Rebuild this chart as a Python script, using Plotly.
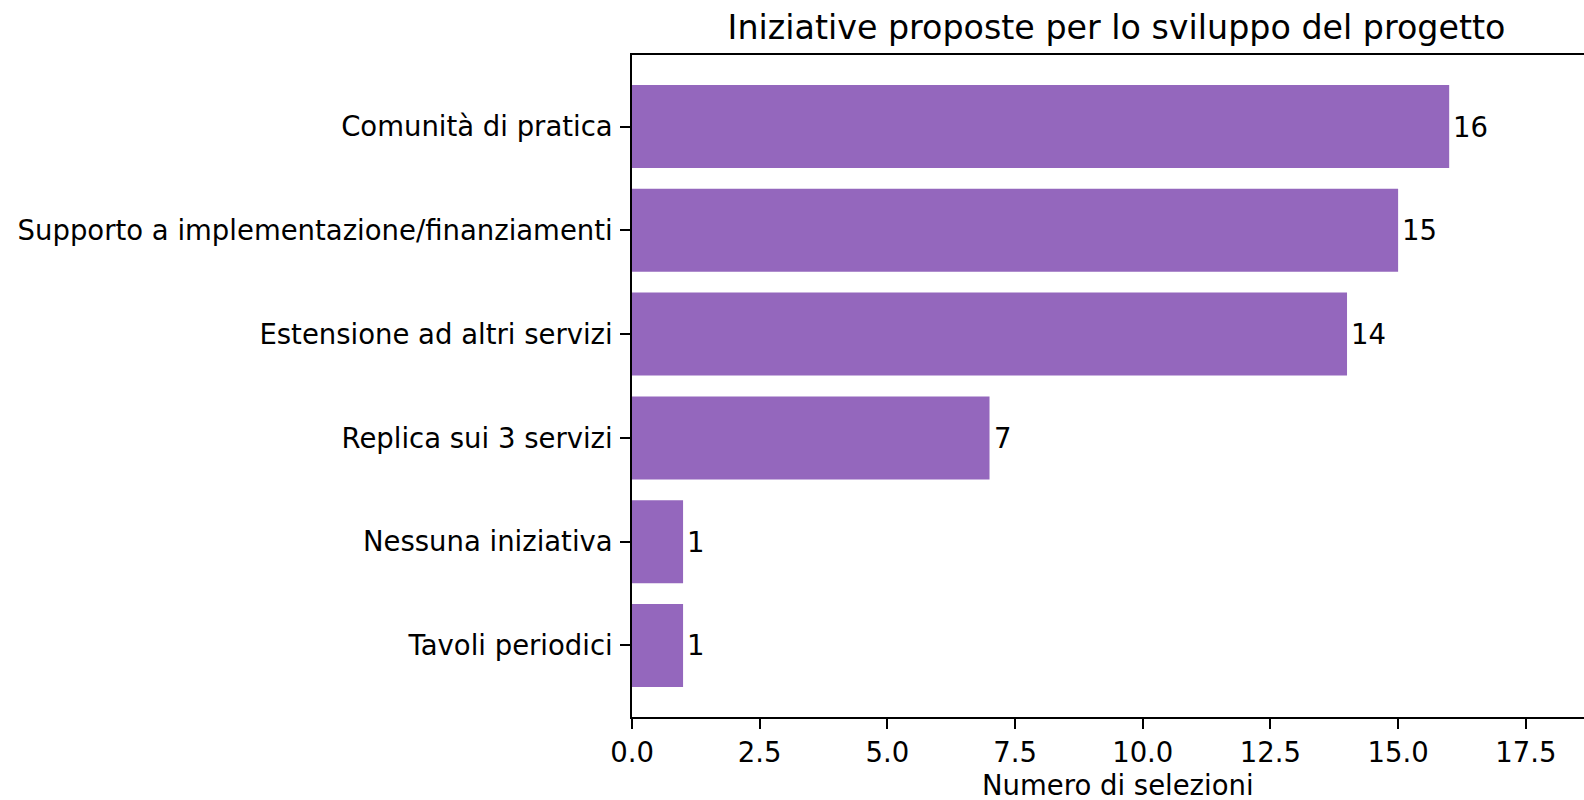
import plotly.graph_objects as go

categories = [
    "Tavoli periodici",
    "Nessuna iniziativa",
    "Replica sui 3 servizi",
    "Estensione ad altri servizi",
    "Supporto a implementazione/finanziamenti",
    "Comunità di pratica",
]
values = [1, 1, 7, 14, 15, 16]
x_ticks = [0, 2.5, 5, 7.5, 10, 12.5, 15, 17.5]
x_tick_labels = ["0.0", "2.5", "5.0", "7.5", "10.0", "12.5", "15.0", "17.5"]

W, H = 1584, 800
L, R, T, B = 631.7, 0, 55, 82.5
FONT = "DejaVu Sans"
FS = 27.5
BAR_COLOR = "#9467bd"

fig = go.Figure()
fig.add_trace(go.Bar(
    x=values,
    y=list(range(len(categories))),
    orientation="h",
    width=0.8,
    marker=dict(color=BAR_COLOR, line=dict(width=0)),
    hoverinfo="skip",
))

annotations = []
for i, v in enumerate(values):
    annotations.append(dict(
        x=v, y=i, xref="x", yref="y", text=str(v), showarrow=False,
        xanchor="left", yanchor="middle", xshift=2,
        font=dict(family=FONT, size=FS, color="black"),
    ))

plot_h = H - T - B
annotations.append(dict(
    x=(1117.5 - L) / (W - L - R), y=(717.5 - 786) / plot_h,
    xref="paper", yref="paper", text="Numero di selezioni", showarrow=False,
    xanchor="center", yanchor="middle",
    font=dict(family=FONT, size=FS, color="black"),
))

fig.update_layout(
    width=W, height=H,
    margin=dict(l=L, r=R, t=T, b=B, pad=0),
    paper_bgcolor="white", plot_bgcolor="white",
    font=dict(family=FONT, size=FS, color="black"),
    showlegend=False,
    title=dict(
        text="Iniziative proposte per lo sviluppo del progetto",
        x=1116.5 / W, xref="container", xanchor="center",
        y=1 - 27 / H, yref="container", yanchor="middle",
        font=dict(family=FONT, size=33.3, color="black"),
    ),
    xaxis=dict(
        range=[0, (W - L) / 51.09],
        tickmode="array", tickvals=x_ticks, ticktext=x_tick_labels,
        showgrid=False, zeroline=False,
        showline=True, linecolor="black", linewidth=2.2, mirror=True,
        ticks="outside", ticklen=9.7, tickwidth=2.2, tickcolor="black",
        tickfont=dict(family=FONT, size=FS, color="black"),
    ),
    yaxis=dict(
        range=[-0.69, 5.69],
        tickmode="array", tickvals=list(range(len(categories))), ticktext=categories,
        showgrid=False, zeroline=False,
        showline=True, linecolor="black", linewidth=2.2, mirror=False,
        ticks="outside", ticklen=9.7, tickwidth=2.2, tickcolor="black",
        ticklabelstandoff=2,
        tickfont=dict(family=FONT, size=FS, color="black"),
    ),
    annotations=annotations,
)

fig.write_html(
    "out.html",
    config={"displayModeBar": False},
    post_script="document.body.style.margin='0';document.body.style.overflow='hidden';",
)
